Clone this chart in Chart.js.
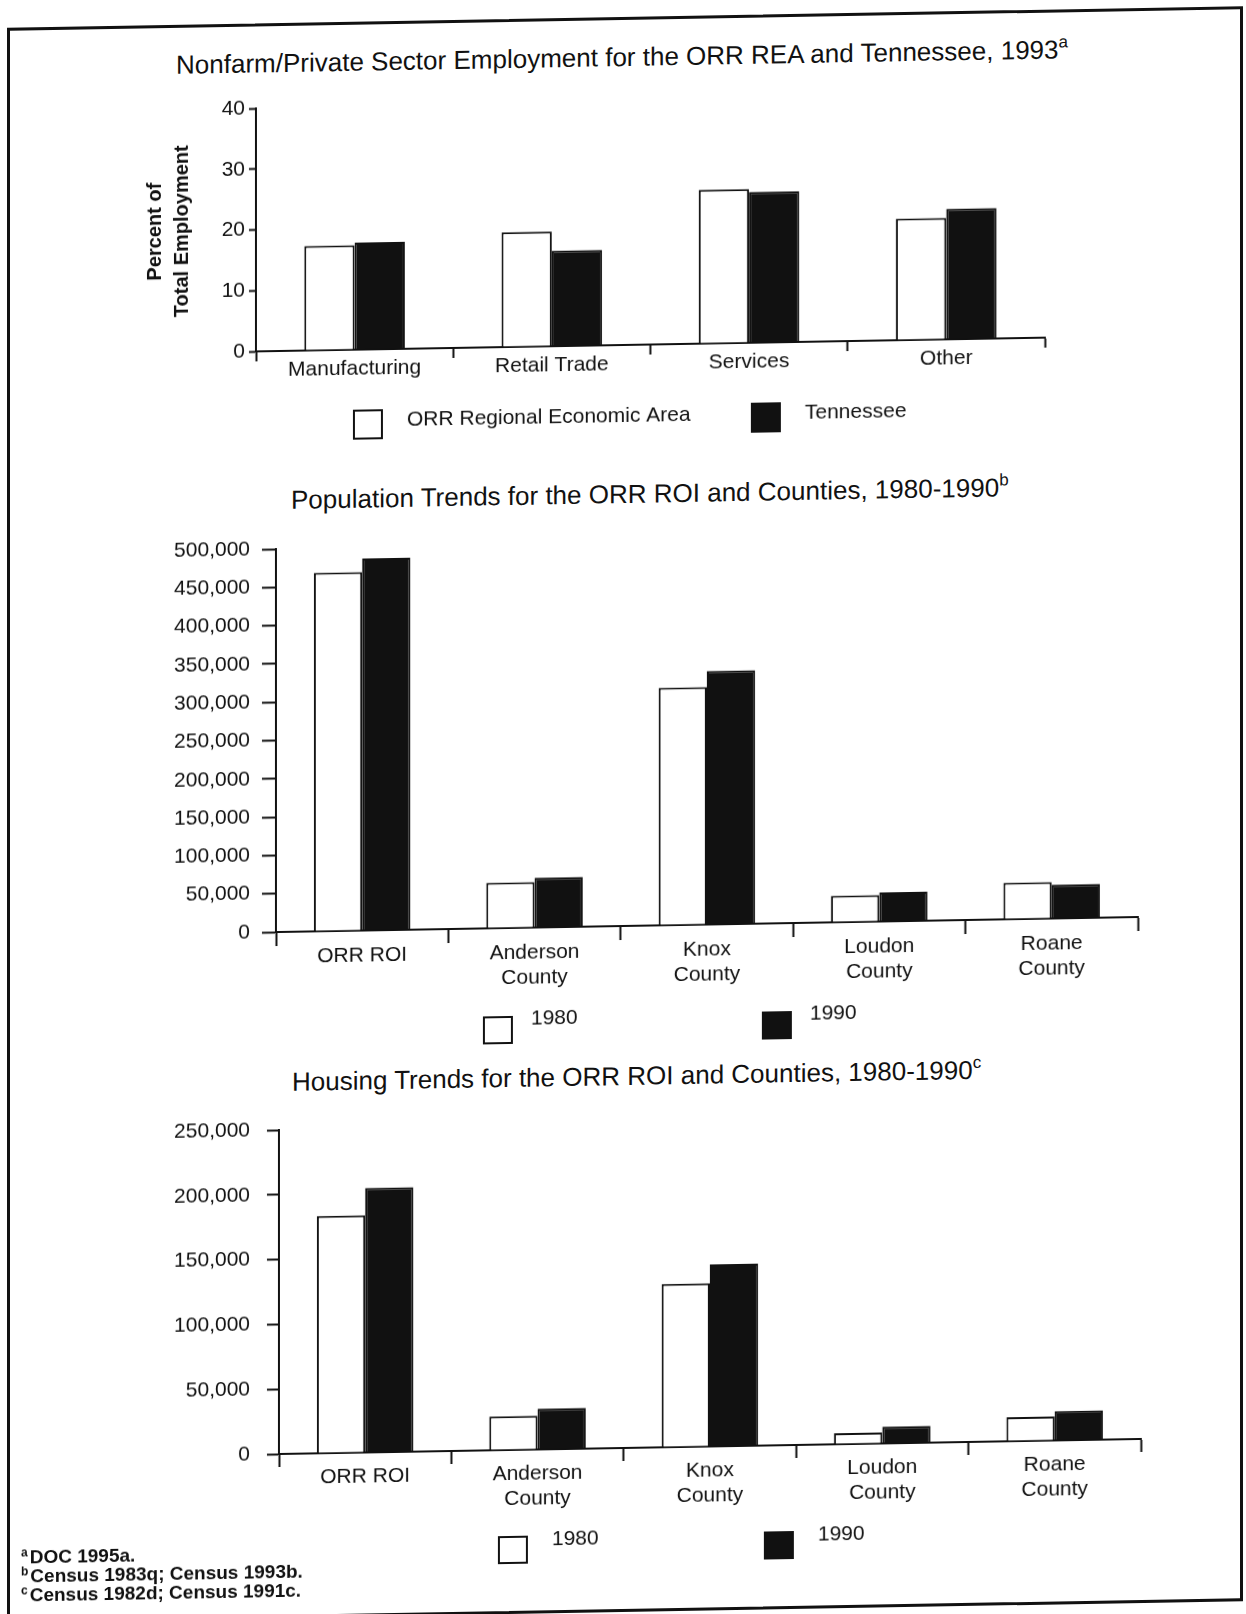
<!DOCTYPE html>
<html>
<head>
<meta charset="utf-8">
<script src="https://cdn.jsdelivr.net/npm/chart.js@4.4.1/dist/chart.umd.min.js"></script>
<style>
  html, body { margin: 0; padding: 0; background: #fff; }
  body { width: 1246px; height: 1614px; overflow: hidden; position: relative; font-family: "Liberation Sans", Arial, sans-serif; color: #111; }
  #page { position: absolute; left: 0; top: 0; width: 1246px; height: 1614px; transform: skewY(-1deg); transform-origin: 623px 0; }
  #frame { position: absolute; left: 7px; top: 17px; width: 1230px; height: 1589px; border: 3px solid #111; }
  .title { position: absolute; font-size: 26px; line-height: 28px; white-space: nowrap; }
  .title sup { font-size: 17px; line-height: 0; vertical-align: 11px; }
  canvas { position: absolute; left: 0; }
  .notes { position: absolute; left: 21px; top: 1537px; font-size: 19px; font-weight: bold; line-height: 19px; white-space: nowrap; }
  .notes sup { font-size: 12px; line-height: 0; vertical-align: 7px; margin-right: 2px; }
</style>
</head>
<body>
<div id="page">
  <div id="frame"></div>

  <div class="title" style="left:176px; top:43px;">Nonfarm/Private Sector Employment for the ORR REA and Tennessee, 1993<sup>a</sup></div>
  <canvas id="empChart" width="1246" height="380" style="top:70px;"></canvas>

  <div class="title" style="left:291px; top:480px;">Population Trends for the ORR ROI and Counties, 1980-1990<sup>b</sup></div>
  <canvas id="popChart" width="1246" height="539" style="top:511px;"></canvas>

  <div class="title" style="left:292px; top:1062px;">Housing Trends for the ORR ROI and Counties, 1980-1990<sup>c</sup></div>
  <canvas id="housingChart" width="1246" height="478" style="top:1092px;"></canvas>

  <div class="notes">
    <div><sup>a</sup>DOC 1995a.</div>
    <div><sup>b</sup>Census 1983q; Census 1993b.</div>
    <div><sup>c</sup>Census 1982d; Census 1991c.</div>
  </div>
</div>

<script>
// employment shares, percent of total (1993)
const empCategories = ['Manufacturing', 'Retail Trade', 'Services', 'Other'];
const empORR = [17.2, 18.9, 25.3, 20.0];
const empTN = [17.6, 15.7, 24.8, 21.5];
const empTicks = [0, 10, 20, 30, 40];

// population and housing, ROI and counties
const countyCategories = ['ORR ROI', ['Anderson', 'County'], ['Knox', 'County'], ['Loudon', 'County'], ['Roane', 'County']];
const pop1980 = [468000, 59500, 310000, 34500, 47500];
const pop1990 = [485500, 65000, 331000, 38000, 44000];
const popTicks = [0, 50000, 100000, 150000, 200000, 250000, 300000, 350000, 400000, 450000, 500000];
const housing1980 = [183000, 26000, 126000, 8500, 18500];
const housing1990 = [204000, 31500, 140500, 13000, 22500];
const housingTicks = [0, 50000, 100000, 150000, 200000, 250000];

const INK = '#111';
const FONT = '"Liberation Sans", Arial, sans-serif';
Chart.defaults.font.family = FONT;
Chart.defaults.color = INK;

// legend drawn as in the scan: outlined box, text beside it
const boxLegend = {
    id: 'boxLegend',
    afterDraw(chart, args, opts) {
        const ctx = chart.ctx;
        ctx.save();
        chart.data.datasets.forEach((ds, i) => {
            const x = opts.xs[i];
            const top = opts.y - opts.h / 2;
            ctx.fillStyle = ds.backgroundColor;
            ctx.fillRect(x, top, opts.w, opts.h);
            ctx.strokeStyle = ds.borderColor;
            ctx.lineWidth = 2;
            ctx.strokeRect(x + 1, top + 1, opts.w - 2, opts.h - 2);
            ctx.fillStyle = INK;
            ctx.font = '21px ' + FONT;
            ctx.textBaseline = 'middle';
            ctx.fillText(ds.label, x + opts.w + opts.gap, opts.y + opts.dy);
        });
        ctx.restore();
    }
};

function makeBars(id, cfg) {
    return new Chart(document.getElementById(id), {
        type: 'bar',
        data: {
            labels: cfg.labels,
            datasets: [
                { label: cfg.names[0], data: cfg.a, backgroundColor: '#fff', borderColor: INK, borderWidth: 2 },
                { label: cfg.names[1], data: cfg.b, backgroundColor: INK, borderColor: INK, borderWidth: 2 }
            ]
        },
        plugins: [boxLegend],
        options: {
            responsive: false,
            animation: false,
            devicePixelRatio: 1,
            categoryPercentage: cfg.catPct,
            barPercentage: 1.0,
            layout: { padding: cfg.padding },
            plugins: {
                legend: { display: false },
                tooltip: { enabled: false },
                boxLegend: cfg.legend
            },
            scales: {
                x: {
                    grid: { offset: true, drawOnChartArea: false, tickLength: cfg.xTick, tickWidth: 2, color: INK },
                    border: { color: INK, width: 2 },
                    ticks: { font: { size: 21, lineHeight: 1.22 }, padding: cfg.xPad, maxRotation: 0, autoSkip: false },
                    afterFit: s => { s.height = cfg.xHeight; }
                },
                y: {
                    min: 0,
                    max: cfg.ticks[cfg.ticks.length - 1],
                    grid: { drawOnChartArea: false, tickLength: cfg.yTick, tickWidth: 2, color: INK },
                    border: { color: INK, width: 2 },
                    ticks: { font: { size: 21 }, padding: cfg.yPad, callback: v => v.toLocaleString('en-US') },
                    afterBuildTicks: s => { s.ticks = cfg.ticks.map(v => ({ value: v })); },
                    afterFit: s => { s.width = cfg.yWidth; },
                    title: cfg.yTitle || { display: false }
                }
            }
        }
    });
}

makeBars('empChart', {
    labels: empCategories,
    names: ['ORR Regional Economic Area', 'Tennessee'],
    a: empORR, b: empTN, ticks: empTicks,
    catPct: 0.51,
    padding: { left: 140, right: 201, top: 32, bottom: 65 },
    xTick: 10, xPad: -4, xHeight: 40,
    yTick: 7, yPad: 4, yWidth: 116,
    yTitle: {
        display: true,
        text: ['Percent of', 'Total Employment'],
        font: { size: 20, weight: 'bold', lineHeight: 1.35 },
        padding: { top: 2, bottom: 0 }
    },
    legend: { xs: [353, 751], y: 350, w: 30, h: 30, gap: 24, dy: -4 }
});

makeBars('popChart', {
    labels: countyCategories,
    names: ['1980', '1990'],
    a: pop1980, b: pop1990, ticks: popTicks,
    catPct: 0.56,
    padding: { left: 0, right: 108, top: 32, bottom: 59 },
    xTick: 14, xPad: -2, xHeight: 65,
    yTick: 14, yPad: 12, yWidth: 276,
    legend: { xs: [483, 762], y: 517, w: 30, h: 28, gap: 18, dy: -11 }
});

makeBars('housingChart', {
    labels: countyCategories,
    names: ['1980', '1990'],
    a: housing1980, b: housing1990, ticks: housingTicks,
    catPct: 0.56,
    padding: { left: 0, right: 105, top: 32, bottom: 57 },
    xTick: 13, xPad: -2, xHeight: 65,
    yTick: 12, yPad: 17, yWidth: 279,
    legend: { xs: [498, 764], y: 456, w: 30, h: 28, gap: 24, dy: -10 }
});
</script>
</body>
</html>
